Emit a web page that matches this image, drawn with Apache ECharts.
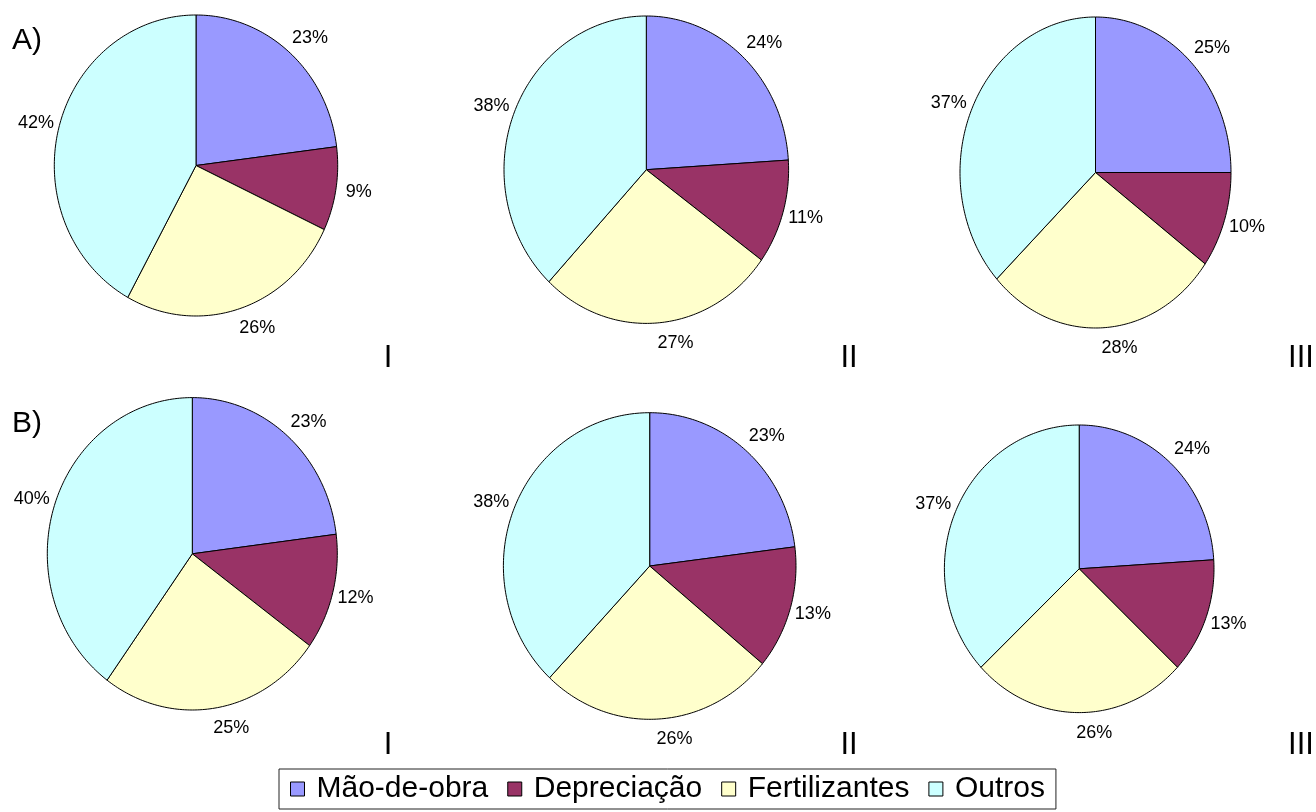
<!DOCTYPE html>
<html><head><meta charset="utf-8">
<script src="https://cdn.jsdelivr.net/npm/echarts@6/dist/echarts.min.js"></script>
<style>html,body{margin:0;padding:0;background:#fff}#c{width:1316px;height:812px}</style>
</head><body><div id="c"></div>
<script>
// ---- data ----
const categories = ['Mão-de-obra', 'Depreciação', 'Fertilizantes', 'Outros'];
const pieNames = ['A-I', 'A-II', 'A-III', 'B-I', 'B-II', 'B-III'];
const maoDeObra     = [23, 24, 25, 23, 23, 24];
const depreciacao   = [9, 11, 10, 12, 13, 13];
const fertilizantes = [26, 27, 28, 25, 26, 26];
const outros        = [42, 38, 37, 40, 38, 37];
const panelLabels = ['A)', 'B)'];
const caseLabels = ['I', 'II', 'III'];

// ---- styles / layout ----
const colors = ['#9999FF', '#993366', '#FFFFCC', '#CCFFFF'];
const layout = [
  {cx: 196,    cy: 165.5, rx: 141.7, ry: 150.5},
  {cx: 646.3,  cy: 169.7, rx: 142.3, ry: 153.7},
  {cx: 1095.5, cy: 172.5, rx: 135.5, ry: 155.5},
  {cx: 192.3,  cy: 553.8, rx: 145,   ry: 156.2},
  {cx: 649.7,  cy: 566,   rx: 146.3, ry: 153.3},
  {cx: 1079.2, cy: 568.8, rx: 134.8, ry: 143.8}
];
const panelPos = [{x: 12, y: 41}, {x: 12, y: 424}];
const caseX = [388, 849, 1301];
const caseY = [358, 745];
const FONT = 'Liberation Sans, Arial, sans-serif';

const seriesValues = [maoDeObra, depreciacao, fertilizantes, outros];
const grids = [], xAxes = [], yAxes = [], series = [];

function renderSlice(params, api) {
  const total = api.value(2);
  const start = api.value(0) / total * 2 * Math.PI;
  const span = api.value(1) / total * 2 * Math.PI;
  const pts = [api.coord([0, 0])];
  const n = Math.max(2, Math.ceil(span / (Math.PI / 180)));
  for (let i = 0; i <= n; i++) {
    const t = start + span * i / n;
    pts.push(api.coord([Math.sin(t), Math.cos(t)]));
  }
  const mid = start + span / 2;
  const s = Math.sin(mid), co = Math.cos(mid);
  const edge = api.coord([s, co]);
  const lx = edge[0] + Math.sign(s) * (15 + 8 * Math.abs(s));
  const ly = edge[1] - 20 * co;
  return {
    type: 'group',
    children: [
      {type: 'polygon', shape: {points: pts},
       style: {fill: api.visual('color'), stroke: '#000', lineWidth: 1}},
      {type: 'text', x: lx, y: ly,
       style: {text: Math.round(api.value(1) / total * 100) + '%', align: 'center',
               verticalAlign: 'middle', fontSize: 18, fontFamily: FONT, fill: '#000'}}
    ]
  };
}

layout.forEach((L, p) => {
  grids.push({left: L.cx - L.rx, top: L.cy - L.ry, width: 2 * L.rx, height: 2 * L.ry, show: false});
  xAxes.push({gridIndex: p, type: 'value', min: -1, max: 1, show: false});
  yAxes.push({gridIndex: p, type: 'value', min: -1, max: 1, show: false});
  const vals = seriesValues.map(a => a[p]);
  const total = vals.reduce((a, b) => a + b, 0);
  categories.forEach((cat, c) => {
    const before = vals.slice(0, c).reduce((a, b) => a + b, 0);
    series.push({
      type: 'custom', name: cat, xAxisIndex: p, yAxisIndex: p,
      itemStyle: {color: colors[c]},
      clip: false,
      data: [[before, vals[c], total]],
      renderItem: renderSlice
    });
  });
});

const graphic = [];
panelLabels.forEach((t, i) => graphic.push({
  type: 'text', x: panelPos[i].x, y: panelPos[i].y,
  style: {text: t, align: 'left', verticalAlign: 'middle', fontSize: 30, fontFamily: FONT, fill: '#000'}
}));
caseY.forEach(y => caseLabels.forEach((t, i) => graphic.push({
  type: 'text', x: caseX[i], y: y,
  style: {text: t, align: 'center', verticalAlign: 'middle', fontSize: 31, fontFamily: FONT, fill: '#000'}
})));

const chart = echarts.init(document.getElementById('c'));
chart.setOption({
  animation: false,
  backgroundColor: '#fff',
  grid: grids, xAxis: xAxes, yAxis: yAxes,
  series: series,
  graphic: graphic,
  legend: {
    data: categories, left: 279, top: 769, padding: [5, 11], itemGap: 19,
    itemWidth: 14, itemHeight: 14, icon: 'rect', selectedMode: false,
    borderColor: '#222', borderWidth: 1,
    itemStyle: {borderColor: '#000', borderWidth: 1},
    textStyle: {fontSize: 30, fontFamily: FONT, color: '#000', padding: [0, 0, 0, 7]}
  }
});
</script></body></html>
